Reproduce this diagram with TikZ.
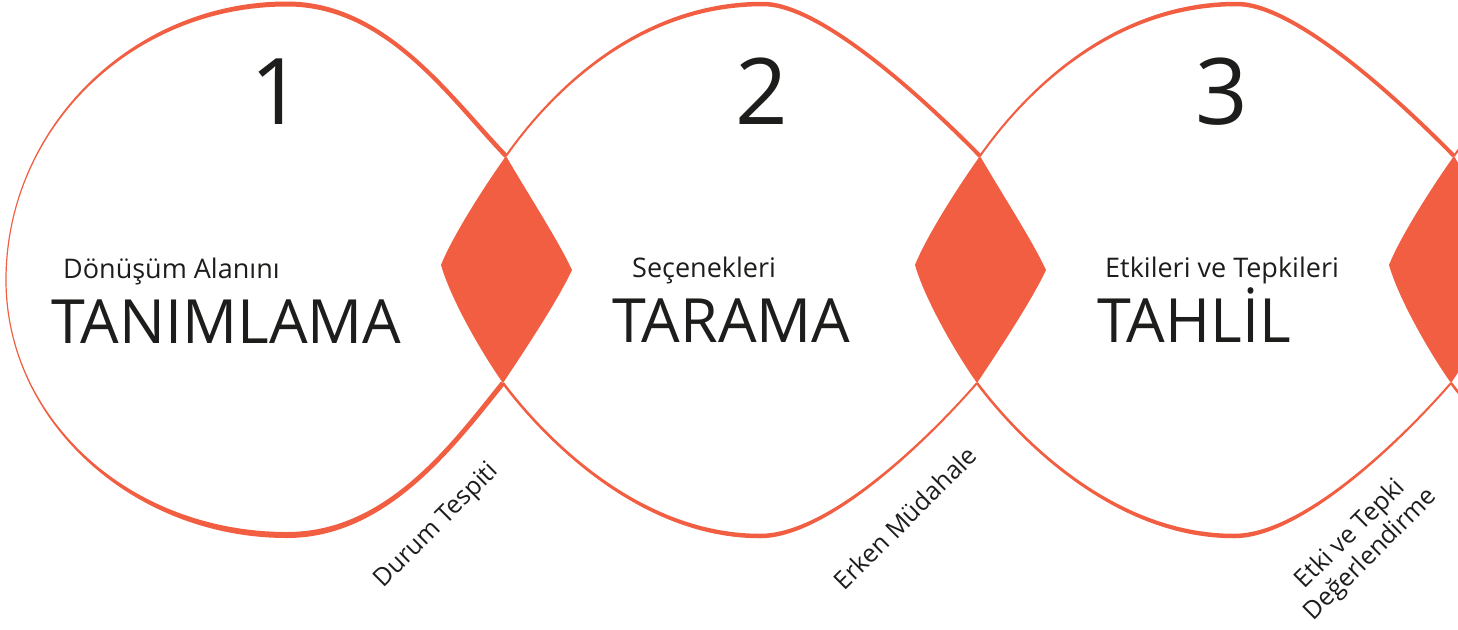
\documentclass[tikz,border=0pt]{standalone}
\usepackage{fontspec}
\setmainfont{Open Sans}
\usepackage{xcolor}
\usepackage{tikz}

\definecolor{loopred}{HTML}{F15E42}
\definecolor{inkblack}{HTML}{1D1D1B}

\begin{document}
\begin{tikzpicture}[x=1pt,y=-1pt,
  brush/.style={fill=loopred},lens/.style={fill=loopred}]

    \tikzstyle{stepnumber} = [inner sep=0pt,anchor=base,text=inkblack,font=\fontsize{92}{92}\selectfont]
    \tikzstyle{steptitle} = [inner sep=0pt,anchor=base west,text=inkblack,font=\fontsize{61}{61}\selectfont]
    \tikzstyle{stepsub} = [inner sep=0pt,anchor=base west,text=inkblack,font=\fontsize{27}{27}\selectfont]
    \tikzstyle{sidelabel} = [inner sep=0pt,rotate=45,align=center,text=inkblack,font=\fontsize{25}{29}\selectfont]

  \useasboundingbox (0,0) rectangle (1458,629);
  \clip (0,0) rectangle (1458,629);

  % lenses
  \foreach \s in {0,474,948} {
    \fill[lens,xshift=\s] (506,156) .. controls (528,194) and (558,240) .. (572,270)
      .. controls (558,300) and (525,350) .. (503,383)
      .. controls (483,355) and (451,300) .. (441,265)
      .. controls (453,235) and (486,184) .. (506,156) -- cycle;
  }

  % first loop, round on the left (strokes get thinner to the left)
  \fill[brush] (5.4,280) .. controls (5.4,128) and (132,1.5) .. (287,1.5)
    -- (287,6.5) .. controls (132,6.5) and (6.6,128) .. (6.6,280) -- cycle;
  \fill[brush] (287,1.5) .. controls (387,1.5) and (452.6,97.4) .. (507.6,154.4)
    -- (504.4,157.6) .. controls (449.4,100.6) and (387,6.5) .. (287,6.5) -- cycle;
  \fill[brush] (504.95,384.57) .. controls (454.95,446.57) and (387,538) .. (287,538)
    -- (287,532) .. controls (387,532) and (451.05,443.43) .. (501.05,381.43) -- cycle;
  \fill[brush] (287,538) .. controls (132,538) and (5.4,421) .. (5.4,280)
    -- (6.6,280) .. controls (6.6,421) and (132,532) .. (287,532) -- cycle;

  % the other loops
  \foreach \s in {0,474,948} {
    \begin{scope}[xshift=\s]
      \fill[brush] (505.18,155.43) .. controls (545.18,98.43) and (633,1.75) .. (763,1.75)
        -- (763,6.25) .. controls (633,6.25) and (546.82,99.57) .. (506.82,156.57) -- cycle;
      \fill[brush] (763,1.75) .. controls (823,1.75) and (932.43,104.6) .. (981.43,154.6)
        -- (978.57,157.4) .. controls (929.57,107.4) and (823,6.25) .. (763,6.25) -- cycle;
      \fill[brush] (977.76,383.66) .. controls (931.76,436.66) and (830,538.25) .. (760,538.25)
        -- (760,533.75) .. controls (830,533.75) and (930.24,435.34) .. (976.24,382.34) -- cycle;
      \fill[brush] (760,538.25) .. controls (640,538.25) and (544,439.75) .. (502,383.75)
        -- (504,382.25) .. controls (546,438.25) and (640,533.75) .. (760,533.75) -- cycle;
    \end{scope}
  }

  \node[stepnumber] (n1) at (277,124) {1};
  \node[stepnumber] (n2) at (762,124) {2};
  \node[stepnumber] (n3) at (1222,124) {3};

  \node[stepsub] (s1) at (63,278) {Dönüşüm Alanını};
  \node[steptitle] (t1) at (51,343) {TANIMLAMA};
  \node[stepsub] (s2) at (632,277) {Seçenekleri};
  \node[steptitle] (t2) at (612,342) {TARAMA};
  \node[stepsub] (s3) at (1105,277) {Etkileri ve Tepkileri};
  \node[steptitle] (t3) at (1097,342) {TAHLİL};

  \node[sidelabel] (d1) at (437,526) {Durum Tespiti};
  \node[sidelabel] (d2) at (905,518) {Erken Müdahale};
  \node[sidelabel] (d3) at (1361,545) {Etki ve Tepki\\Değerlendirme};

\end{tikzpicture}
\end{document}
